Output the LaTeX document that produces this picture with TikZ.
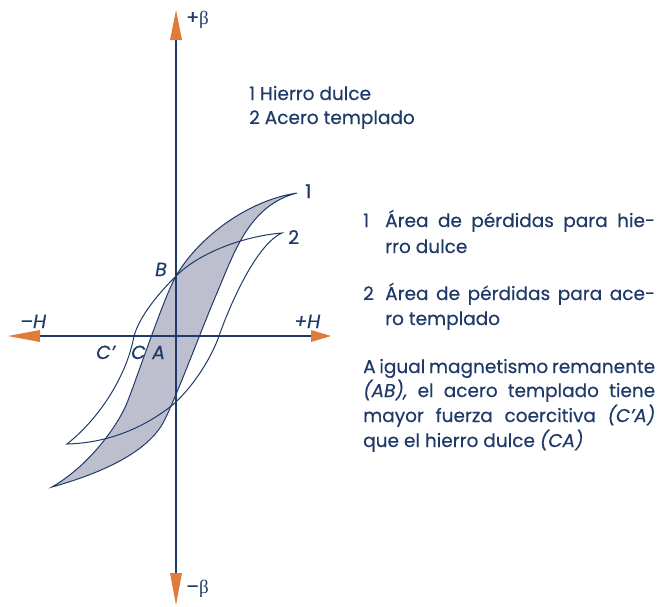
\documentclass[tikz,border=0pt]{standalone}
\usepackage{fontspec}
\setmainfont{Poppins}[FakeBold=0.35]
\newfontfamily\grk{Liberation Serif}
\definecolor{navy}{HTML}{1F3A68}
\definecolor{orng}{HTML}{E07B39}
\definecolor{loopfill}{HTML}{BDBFCF}
\begin{document}
\begin{tikzpicture}[x=1pt,y=-1pt,
  txt/.style={text=navy,inner sep=0pt,anchor=base west,font=\fontsize{18.5}{22}\selectfont},
  lbl/.style={text=navy,inner sep=0pt,font=\fontsize{19}{22}\selectfont\itshape},
  axis/.style={draw=navy,line width=1.3pt},
  loop/.style={draw=navy,line width=1pt,line join=miter},
  tip/.style={fill=orng,draw=none}]
\useasboundingbox (0,0) rectangle (658,606);
% loop 1 (soft iron, filled)
\coordinate (T1) at (297,193);
\coordinate (B1) at (52,487);
\coordinate (Bp) at (176,276);
\def\loopA{(T1) .. controls (250,200) and (200,235) .. (Bp)
  .. controls (164,297) and (138,375) .. (127,403)
  .. controls (118,425) and (90,465) .. (B1)
  .. controls (95,475) and (145,455) .. (163,423)
  .. controls (175,401) and (205,320) .. (217,293)
  .. controls (235,250) and (250,205) .. (T1) -- cycle}
\fill[loopfill] \loopA;
\draw[loop] \loopA;
% loop 2 (tempered steel)
\coordinate (T2) at (282,233);
\coordinate (B2) at (67,444);
\draw[loop] (T2) .. controls (245,236) and (200,252) .. (Bp)
  .. controls (160,292) and (140,315) .. (134,336)
  .. controls (127,375) and (100,418) .. (B2)
  .. controls (105,443) and (140,430) .. (170,407)
  .. controls (188,393) and (210,362) .. (219,336)
  .. controls (228,310) and (255,245) .. (T2) -- cycle;
% axes
\coordinate (top) at (176,10);
\coordinate (bot) at (176,605);
\coordinate (lft) at (8,336);
\coordinate (rgt) at (331,336);
\draw[axis] (176,40) -- (176,573);
\draw[axis] (40,336) -- (311,336);
\fill[tip] (top) -- (182,40) -- (170,40) -- cycle;
\fill[tip] (bot) -- (182,573) -- (170,573) -- cycle;
\fill[tip] (lft) -- (40,330) -- (40,342) -- cycle;
\fill[tip] (rgt) -- (311,330) -- (311,342) -- cycle;
% axis labels
\node[lbl,anchor=base west] (pb) at (186,24) {\upshape +{\grk β}};
\node[lbl,anchor=base west] (mb) at (186,593) {\upshape –{\grk β}};
\node[lbl,anchor=base west] (mh) at (20,328) {–H};
\node[lbl,anchor=base west] (ph) at (294,328) {+H};
\node[lbl,anchor=base west] (nb) at (155,276) {B};
\node[lbl,anchor=base west] (ncp) at (96,359) {C'};
\node[lbl,anchor=base west] (nc) at (131,359) {C};
\node[lbl,anchor=base west] (na) at (152,359) {A};
\node[lbl,anchor=base west] (n1) at (305,198) {\upshape 1};
\node[lbl,anchor=base west] (n2) at (288,244) {\upshape 2};
% legend
\node[txt] (l1) at (249,100) {1 Hierro dulce};
\node[txt] (l2) at (249,124) {2 Acero templado};
% right text
\node[txt] (r1n) at (363,227) {1};
\node[txt] (r1a) at (385,227) {\makebox[270pt][s]{Área de pérdidas para hie-}};
\node[txt] (r1b) at (385,253) {rro dulce};
\node[txt] (r2n) at (363,300) {2};
\node[txt] (r2a) at (385,300) {\makebox[270pt][s]{Área de pérdidas para ace-}};
\node[txt] (r2b) at (385,325) {ro templado};
\node[txt] (p1) at (363,373) {\makebox[292pt][s]{A igual magnetismo remanente}};
\node[txt] (p2) at (363,397) {\makebox[292pt][s]{\textit{(AB),} el acero templado tiene}};
\node[txt] (p3) at (363,422) {\makebox[292pt][s]{mayor fuerza coercitiva \textit{(C’A)}}};
\node[txt] (p4) at (363,447) {que el hierro dulce \textit{(CA)}};
\end{tikzpicture}
\end{document}
